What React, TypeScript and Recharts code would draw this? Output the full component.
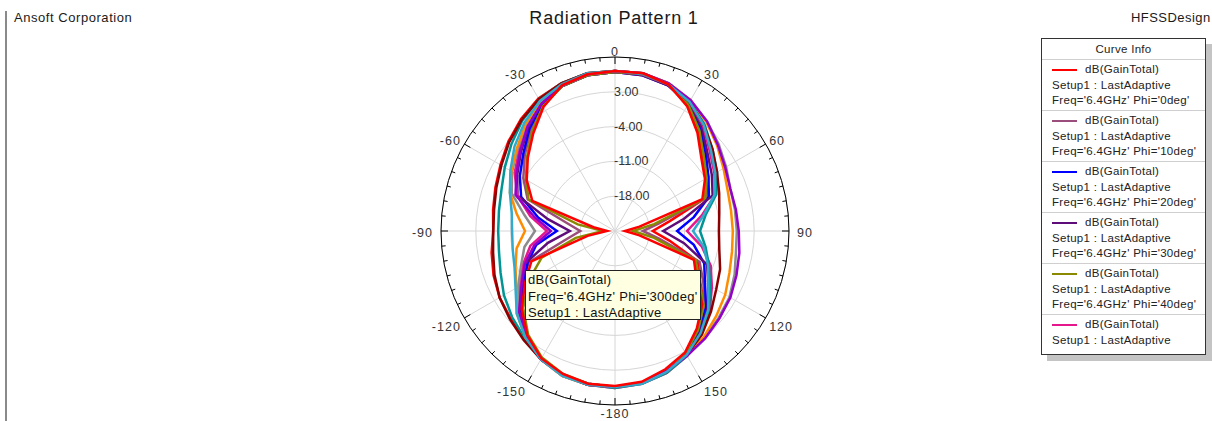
import React from "react";
import { RadarChart, Radar, PolarGrid, PolarAngleAxis, PolarRadiusAxis } from "recharts";

// theta sweep, degrees
const theta = [
  -180, -170, -160, -150, -140, -130, -120, -110, -100, -90, -80, -70, -60, -50, -40, -30, -20, -10,
  0, 10, 20, 30, 40, 50, 60, 70, 80, 90, 100, 110, 120, 130, 140, 150, 160, 170,
];

// dB(GainTotal) per phi cut, same order as theta
const gainPhi0 = [6.2, 6.2, 5.6, 4.6, 2.4, -0.5, -4.1, -7.1, -19.4, -23.4, -20.6, -7.3, -4.5, -2.1, 0.6, 3.8, 6.2, 7.0, 7.2, 7.2, 6.4, 4.0, 0.8, -2.3, -4.1, -6.3, -20.0, -23.0, -20.0, -8.1, -6.1, -2.1, 0.6, 3.2, 4.6, 5.8];
const gainPhi10 = [6.4, 6.2, 5.8, 4.8, 2.6, -0.1, -3.5, -6.5, -14.9, -18.0, -14.9, -6.3, -3.7, -1.3, 1.4, 4.2, 6.0, 6.8, 7.0, 7.0, 6.2, 4.4, 1.4, -1.5, -3.3, -5.3, -15.9, -19.4, -15.9, -6.9, -4.5, -1.3, 1.2, 3.4, 5.0, 6.0];
const gainPhi20 = [6.4, 6.2, 5.8, 4.8, 2.6, -0.1, -3.7, -6.3, -8.9, -13.3, -9.3, -4.9, -2.9, -0.9, 1.8, 4.4, 6.0, 6.8, 7.0, 6.8, 6.2, 4.6, 1.8, -1.1, -3.3, -4.9, -8.9, -12.5, -8.9, -5.9, -4.1, -1.1, 1.4, 3.6, 5.2, 6.0];
const gainPhi30 = [6.4, 6.4, 5.8, 4.8, 2.8, 0.2, -3.3, -5.7, -11.3, -15.9, -11.3, -4.1, -2.3, -0.3, 2.2, 4.6, 6.2, 6.8, 7.0, 6.8, 6.2, 4.8, 2.2, -0.7, -2.5, -4.1, -10.9, -15.3, -10.9, -5.3, -3.3, -0.7, 1.6, 3.8, 5.2, 6.0];
const gainPhi40 = [6.4, 6.2, 5.6, 4.4, 2.2, -0.9, -4.9, -9.3, -17.0, -22.6, -17.4, -6.5, -4.3, -1.9, 1.0, 4.0, 6.0, 6.8, 7.0, 7.0, 6.4, 4.4, 1.4, -1.7, -3.7, -5.7, -17.0, -21.4, -17.0, -7.7, -5.5, -1.7, 1.0, 3.4, 5.0, 6.0];
const gainPhi50 = [6.6, 6.4, 6.0, 4.8, 2.8, 0.4, -2.9, -5.3, -7.7, -11.3, -7.7, -4.1, -1.7, 0.2, 2.6, 4.8, 6.2, 7.0, 7.2, 7.0, 6.4, 5.0, 2.6, -0.1, -1.9, -3.5, -7.3, -10.5, -7.3, -4.5, -2.5, -0.1, 2.0, 4.0, 5.4, 6.2];
const gainPhi60 = [6.6, 6.4, 5.8, 4.6, 3.2, 2.0, 0.8, -0.5, -1.3, -1.5, -1.3, -0.7, 0.6, 2.2, 4.0, 5.6, 6.6, 7.2, 7.2, 7.2, 6.6, 5.2, 3.0, 0.6, -1.3, -3.3, -6.5, -7.9, -6.5, -4.9, -2.9, -0.3, 2.0, 4.0, 5.4, 6.2];
const gainPhi70 = [6.4, 6.4, 6.0, 4.8, 3.0, 0.6, -2.5, -4.9, -6.5, -8.9, -6.5, -2.9, -1.1, 0.6, 2.8, 4.8, 6.4, 7.0, 7.2, 7.2, 6.6, 5.4, 3.8, 2.2, 0.8, -0.3, -0.5, -0.5, -0.3, 0.6, 1.6, 2.2, 3.0, 3.8, 5.0, 6.0];
const gainPhi80 = [6.4, 6.4, 6.0, 4.8, 3.0, 0.8, -2.1, -3.7, -4.9, -6.9, -4.9, -2.5, -0.9, 0.8, 3.0, 5.0, 6.4, 7.0, 7.2, 7.2, 6.6, 5.4, 3.6, 1.8, 0.2, -0.9, -1.3, -1.3, -1.1, -0.5, 0.6, 1.6, 2.8, 3.8, 5.0, 6.0];
const gainPhi90 = [6.4, 6.4, 5.8, 4.8, 3.6, 2.6, 1.8, 0.8, -0.1, -0.5, -0.3, 0.4, 1.4, 2.8, 4.2, 5.6, 6.6, 7.2, 7.2, 7.0, 6.4, 5.0, 2.8, 0.6, -1.3, -2.7, -3.7, -4.1, -3.7, -2.5, -1.5, 0.2, 2.2, 3.8, 5.2, 6.0];
const gainPhi100 = [6.4, 6.4, 5.8, 4.8, 2.8, 0.2, -3.3, -5.7, -8.5, -12.1, -8.5, -3.7, -2.1, -0.1, 2.4, 4.6, 6.2, 7.0, 7.2, 7.2, 6.6, 5.4, 3.8, 2.0, 0.6, -0.3, -0.3, -0.1, 0.4, 1.0, 1.8, 2.4, 3.2, 4.0, 5.0, 6.0];
const gainPhi110 = [6.4, 6.4, 6.0, 4.8, 3.0, 0.8, -1.9, -3.5, -4.1, -4.3, -3.9, -2.5, -0.7, 1.4, 3.4, 5.2, 6.4, 7.2, 7.2, 7.0, 6.4, 5.0, 2.8, 0.2, -1.7, -3.7, -6.9, -9.3, -6.9, -5.1, -3.3, -0.5, 1.8, 3.8, 5.2, 6.2];
const gainPhi120 = [6.4, 6.4, 5.8, 4.8, 3.4, 2.4, 1.8, 1.0, 0.2, -0.5, -0.1, 0.6, 1.6, 3.0, 4.4, 5.8, 6.6, 7.2, 7.2, 7.2, 6.4, 4.2, 1.2, -1.9, -3.7, -5.7, -13.9, -17.4, -13.9, -7.3, -5.3, -1.5, 1.0, 3.4, 5.0, 6.0];

const curves = [
  { key: "phi0", phi: 0, color: "#ff0000", values: gainPhi0 },
  { key: "phi10", phi: 10, color: "#9b4d7c", values: gainPhi10 },
  { key: "phi20", phi: 20, color: "#0000ff", values: gainPhi20 },
  { key: "phi30", phi: 30, color: "#5e0c7a", values: gainPhi30 },
  { key: "phi40", phi: 40, color: "#8a8a00", values: gainPhi40 },
  { key: "phi50", phi: 50, color: "#e6178c", values: gainPhi50 },
  { key: "phi60", phi: 60, color: "#009494", values: gainPhi60 },
  { key: "phi70", phi: 70, color: "#8c8c8c", values: gainPhi70 },
  { key: "phi80", phi: 80, color: "#ff8c00", values: gainPhi80 },
  { key: "phi90", phi: 90, color: "#8b0000", values: gainPhi90 },
  { key: "phi100", phi: 100, color: "#9400c8", values: gainPhi100 },
  { key: "phi110", phi: 110, color: "#33aacc", values: gainPhi110 },
  { key: "phi120", phi: 120, color: "#ff0000", values: gainPhi120 },
];
// red phi=0 ends up on top, like the original
const drawOrder = ["phi120", "phi10", "phi20", "phi30", "phi40", "phi50", "phi60", "phi70", "phi80", "phi90", "phi100", "phi110", "phi0"];

const radiusTicks = [-25, -18, -11, -4, 3, 10];
const angleTicks = Array.from({ length: 72 }, (_, i) => -180 + i * 5);
const gridAngles = [0, 30, 60, 90, 120, 150, 180, 210, 240, 270, 300, 330];
const legendCurves = curves.slice(0, 6);

const data = theta.map((t, i) => {
  const row: Record<string, number> = { theta: t };
  curves.forEach((c) => {
    row[c.key] = c.values[i];
  });
  return row;
});

const CX = 615;
const CY = 231;
const R = 174;
const FONT = '"Liberation Sans", Arial, sans-serif';

function AngleTick(props: any) {
  const { payload } = props;
  const v: number = payload.value;
  const rad = (-payload.coordinate * Math.PI) / 180;
  const ux = Math.cos(rad);
  const uy = Math.sin(rad);
  const major = v % 30 === 0;
  const len = major ? 7 : 4;
  const line = (
    <line
      x1={CX + R * ux}
      y1={CY + R * uy}
      x2={CX + (R - len) * ux}
      y2={CY + (R - len) * uy}
      stroke="#000"
      strokeWidth={1}
    />
  );
  if (!major) return <g>{line}</g>;
  const anchor = ux > 0.1 ? "start" : ux < -0.1 ? "end" : "middle";
  const lx = CX + (R + 4) * ux + (Math.abs(ux) > 0.95 ? 4 * Math.sign(ux) : 0);
  let ly = CY + (R + 4) * uy + (uy > 0.1 ? 7 : uy < -0.1 ? -1.5 : 2);
  if (uy > 0.99) ly -= 2;
  return (
    <g>
      {line}
      <text
        x={lx}
        y={ly}
        textAnchor={anchor}
        dominantBaseline="central"
        fontSize={12.5}
        letterSpacing={1}
        fill="#333"
        fontFamily={FONT}
      >
        {v}
      </text>
    </g>
  );
}

function RadiusTick(props: any) {
  const { x, y, payload } = props;
  const v: number = payload.value;
  if (v === -25 || v === 10) return <g />;
  return (
    <text x={x - 1} y={y} textAnchor="start" dominantBaseline="central" fontSize={12.5} fill="#333" fontFamily={FONT}>
      {v.toFixed(2)}
    </text>
  );
}

export default function App() {
  return (
    <div
      style={{
        position: "absolute",
        left: 0,
        top: 0,
        width: 1212,
        height: 421,
        overflow: "hidden",
        background: "#fff",
        fontFamily: FONT,
        color: "#1a1a1a",
      }}
    >
      <div style={{ position: "absolute", left: 5, top: 11, width: 2, height: 410, background: "#8a8a8a" }} />
      <div style={{ position: "absolute", left: 14, top: 10, fontSize: 13, letterSpacing: 0.55, whiteSpace: "nowrap" }}>
        Ansoft Corporation
      </div>
      <div style={{ position: "absolute", left: 1131, top: 10, fontSize: 13, letterSpacing: 0.45, whiteSpace: "nowrap" }}>
        HFSSDesign
      </div>
      <div
        style={{
          position: "absolute",
          left: 364,
          width: 500,
          top: 8,
          fontSize: 18,
          letterSpacing: 0.8,
          textAlign: "center",
          whiteSpace: "nowrap",
        }}
      >
        Radiation Pattern 1
      </div>

      <div style={{ position: "absolute", left: 0, top: 0 }}>
        <RadarChart
          width={1212}
          height={421}
          data={data}
          cx={CX}
          cy={CY}
          innerRadius={0}
          outerRadius={R}
          startAngle={-90}
          endAngle={-450}
          margin={{ top: 0, right: 0, bottom: 0, left: 0 }}
        >
          <PolarGrid gridType="circle" polarAngles={gridAngles} stroke="#d6d6d6" strokeWidth={1} />
          {drawOrder.map((k) => {
            const c = curves.find((cc) => cc.key === k)!;
            return (
              <Radar
                key={c.key}
                dataKey={c.key}
                name={`Phi='${c.phi}deg'`}
                stroke={c.color}
                strokeWidth={2.5}
                fill="none"
                fillOpacity={0}
                dot={false}
                legendType="none"
                isAnimationActive={false}
              />
            );
          })}
          <PolarAngleAxis
            dataKey="theta"
            type="number"
            domain={[-180, 180]}
            ticks={angleTicks}
            axisLineType="circle"
            axisLine={{ stroke: "#000", strokeWidth: 1 }}
            stroke="#000"
            tickLine={false}
            tick={AngleTick}
          />
          <PolarRadiusAxis
            angle={90}
            type="number"
            domain={[-25, 10]}
            ticks={radiusTicks}
            axisLine={false}
            tickLine={false}
            tick={RadiusTick}
          />
        </RadarChart>
      </div>

      <div
        style={{
          position: "absolute",
          left: 525,
          top: 270,
          width: 172,
          height: 47,
          border: "1px solid #222",
          background: "#ffffe1",
          fontSize: 13,
          letterSpacing: 0.3,
          lineHeight: "16.5px",
          padding: "1px 0 0 2px",
          whiteSpace: "nowrap",
          color: "#111",
        }}
      >
        <div>dB(GainTotal)</div>
        <div>Freq='6.4GHz' Phi='300deg'</div>
        <div>Setup1 : LastAdaptive</div>
      </div>

      <div
        style={{
          position: "absolute",
          left: 1041,
          top: 38,
          width: 163,
          height: 315,
          border: "1px solid #333",
          background: "#fff",
          boxShadow: "6px 6px 0 #c4c4c4",
          overflow: "hidden",
          fontSize: 11.5,
          letterSpacing: 0.3,
          color: "#222",
        }}
      >
        <div style={{ height: 20, lineHeight: "20px", textAlign: "center", borderBottom: "1px solid #cfcfcf" }}>Curve Info</div>
        {legendCurves.map((c, i) => (
          <div
            key={c.key}
            style={{
              height: 48,
              padding: "2px 0 0 10px",
              lineHeight: "15.5px",
              borderBottom: i === legendCurves.length - 1 ? "none" : "1px solid #cfcfcf",
              whiteSpace: "nowrap",
            }}
          >
            <div>
              <span
                style={{
                  display: "inline-block",
                  width: 25,
                  height: 2,
                  background: c.color,
                  verticalAlign: "middle",
                  marginRight: 8,
                }}
              />
              dB(GainTotal)
            </div>
            <div>Setup1 : LastAdaptive</div>
            {i < legendCurves.length - 1 && <div>Freq='6.4GHz' Phi='{c.phi}deg'</div>}
          </div>
        ))}
      </div>
    </div>
  );
}
